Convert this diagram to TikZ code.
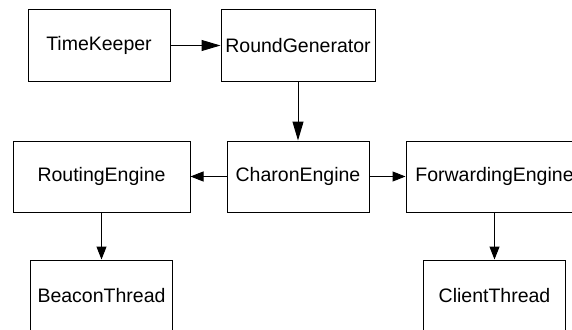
\documentclass[tikz,border=0pt]{standalone}
\usepackage{fontspec}
\setmainfont{Liberation Sans}
\usetikzlibrary{arrows.meta}

\tikzset{
  block/.style={draw=black, line width=1pt, fill=white, inner sep=0pt,
                minimum height=71pt, minimum width=142pt,
                font=\fontsize{19.5}{23}\selectfont},
  wide/.style={block, minimum width=177pt},
  link/.style={draw=black, line width=1pt, -{Triangle[length=13pt, width=10pt]}},
  biglink/.style={draw=black, line width=1pt, -{Triangle[length=19pt, width=11pt]}}
}

\begin{document}
\begin{tikzpicture}[x=1pt, y=-1pt]
  \useasboundingbox (0,0) rectangle (572,329);
  \fill[white] (0,0) rectangle (572,329);
  \clip (0,0) rectangle (572,329);

  % top row
  \node[block] (tk) at (99,45.5) {TimeKeeper};
  \node[block, minimum width=154pt] (rg) at (298,45.5) {RoundGenerator};

  % middle row
  \node[block] (ce) at (298,176.5) {CharonEngine};
  \node[wide] (re) at (101.5,176.5) {RoutingEngine};
  \node[wide] (fe) at (494.5,176.5) {ForwardingEngine};

  % bottom row
  \node[block] (bt) at (101.5,295.5) {BeaconThread};
  \node[block] (ct) at (494.5,295.5) {ClientThread};

  % connectors
  \draw[biglink] (tk.east) -- (rg.west);
  \draw[biglink] (rg.south) -- (ce.north);
  \draw[link] (ce.west) -- (re.east);
  \draw[link] (ce.east) -- (fe.west);
  \draw[link] (re.south) -- (bt.north);
  \draw[link] (fe.south) -- (ct.north);
\end{tikzpicture}
\end{document}
